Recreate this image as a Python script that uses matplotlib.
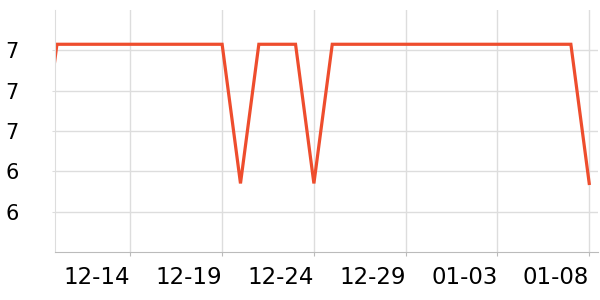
import numpy as np
import pandas as pd
import matplotlib
matplotlib.use("Agg")
import matplotlib.pyplot as plt
import matplotlib.dates as mdates

# daily values, 12-09 .. 01-08 (the first day lies just outside the view)
dates = pd.date_range("2023-12-09", "2024-01-08", freq="D")
values = [6.34,
          6.96, 7.03, 7.03, 7.03, 7.03, 7.03, 7.03, 7.03, 7.03, 7.03,
          6.34, 7.03, 7.03, 7.03, 6.34, 7.03, 7.03, 7.03, 7.03, 7.03,
          7.03, 7.03, 7.03, 7.03, 7.03, 7.03, 7.03, 7.03, 7.03, 6.34]
values[1] = 7.03
tick_dates = pd.to_datetime(["2023-12-14", "2023-12-19", "2023-12-24",
                             "2023-12-29", "2024-01-03", "2024-01-08"])
y_ticks = [6.2, 6.4, 6.6, 6.8, 7.0]

fig = plt.figure(figsize=(6, 3), dpi=100)
ax = fig.add_axes([0.0917, 0.16, 0.905, 0.8067])

ax.plot(dates, values, color="#EE4D2D", linewidth=2.3, solid_joinstyle="miter")

ax.set_xlim(dates[1] - pd.Timedelta(hours=2.5), dates[-1] + pd.Timedelta(hours=11.5))
ax.set_ylim(6.0, 7.2)
ax.set_yticks(y_ticks)
ax.yaxis.set_major_formatter(plt.FormatStrFormatter("%.0f"))
ax.set_xticks(tick_dates)
ax.xaxis.set_major_formatter(mdates.DateFormatter("%m-%d"))

ax.grid(True, color="#dddddd", linewidth=1)
ax.set_axisbelow(True)
for s in ["top", "right"]:
    ax.spines[s].set_visible(False)
ax.spines["left"].set_color("#dddddd")
ax.spines["bottom"].set_color("#bbbbbb")

ax.tick_params(axis="y", length=2, color="#dddddd", pad=24, labelsize=15)
ax.tick_params(axis="x", length=3, color="#bbbbbb", pad=7, labelsize=16.5)
for lbl in ax.get_xticklabels():
    lbl.set_horizontalalignment("right")

fig.savefig("out.png", dpi=100)
